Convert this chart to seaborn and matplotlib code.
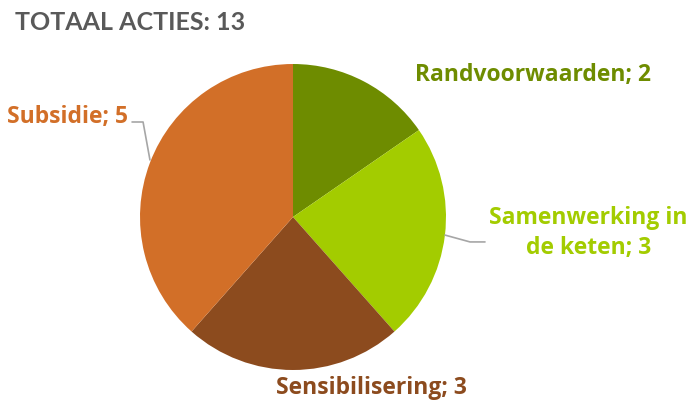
import matplotlib
matplotlib.use("Agg")
import matplotlib.pyplot as plt
import seaborn as sns

# data
categories = ["Randvoorwaarden", "Samenwerking in\nde keten", "Sensibilisering", "Subsidie"]
values = [2, 3, 3, 5]
colors = ["#6E8C00", "#A3CC00", "#8C4B1E", "#D26F28"]
total = sum(values)

sns.set_theme(style="white")
plt.rcParams["font.family"] = ["Open Sans", "DejaVu Sans"]

fig = plt.figure(figsize=(6.89, 4.0), dpi=100)
ax = fig.add_axes([0.2032, 0.075, 0.4441, 0.765])

wedges, _ = ax.pie(values, colors=colors, startangle=90, counterclock=False,
                   radius=1.0, wedgeprops=dict(linewidth=0))
ax.set_xlim(-1, 1)
ax.set_ylim(-1, 1)
ax.set_aspect("equal")
ax.axis("off")

# labels (data units are radius units)
lab_pos = [(0.80, 0.93, "left"), (1.93, -0.105, "center"),
           (0.51, -1.118, "center"), (-1.078, 0.654, "right")]
for cat, v, c, (x, y, ha) in zip(categories, values, colors, lab_pos):
    ax.text(x, y, f"{cat}; {v}", color=c, fontsize=16.5, fontweight="bold",
            ha=ha, va="center", linespacing=1.3, clip_on=False)

# leader lines
ax.plot([-1.052, -0.980, -0.935], [0.621, 0.621, 0.373], color="#A6A6A6",
        lw=1.2, clip_on=False)
ax.plot([0.993, 1.157, 1.255], [-0.118, -0.163, -0.163], color="#A6A6A6",
        lw=1.2, clip_on=False)

fig.text(0.022, 0.945, f"TOTAAL ACTIES: {total}", color="#595959", fontsize=18,
         fontweight="bold", ha="left", va="center", family=["Lato", "DejaVu Sans"])

fig.savefig("out.png", dpi=100)
